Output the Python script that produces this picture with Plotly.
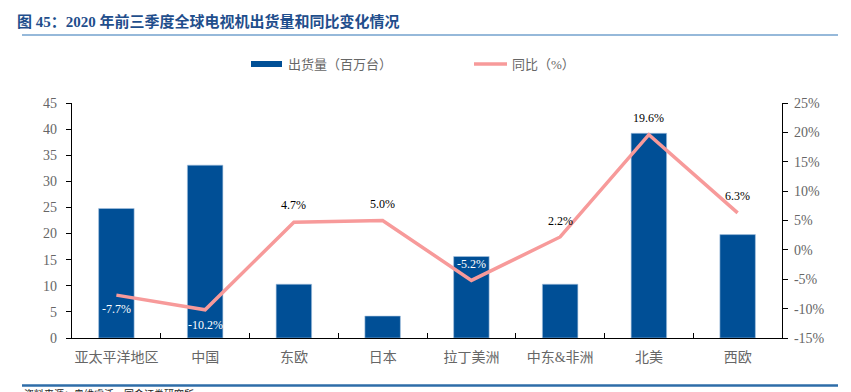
import plotly.graph_objects as go

categories = ["亚太平洋地区", "中国", "东欧", "日本", "拉丁美洲", "中东&非洲", "北美", "西欧"]
shipments = [24.8, 33.1, 10.3, 4.2, 15.6, 10.3, 39.2, 19.8]
yoy = [-7.7, -10.2, 4.7, 5.0, -5.2, 2.2, 19.6, 6.3]
label_shift = [-14, -15, 17, 17, 16, 16, 17, 17]
label_color = ["white", "white", "black", "black", "white", "black", "black", "black"]

left_ticks = [0, 5, 10, 15, 20, 25, 30, 35, 40, 45]
right_ticks = [-15, -10, -5, 0, 5, 10, 15, 20, 25]

W, H = 851, 392
L, R, T, B = 72, 782, 103, 338

BAR = "#004F96"
LINE = "#F79A9A"
GREY = "#666666"
FONT = "Liberation Serif, Noto Sans CJK SC, serif"

fig = go.Figure()
fig.add_trace(go.Bar(
    x=categories, y=shipments, name="出货量（百万台）",
    marker=dict(color=BAR, line=dict(color="#A9C4E0", width=0.6)),
    yaxis="y", showlegend=False,
))
fig.add_trace(go.Scatter(
    x=categories, y=yoy, name="同比（%）", mode="lines",
    line=dict(color=LINE, width=3.5),
    yaxis="y2", showlegend=False, cliponaxis=False,
))

def px_x(p):
    return (p - L) / (R - L)

def px_y(p):
    return (B - p) / (B - T)

shapes = [
    dict(type="line", xref="paper", yref="paper", x0=px_x(22), x1=px_x(838),
         y0=px_y(35), y1=px_y(35), line=dict(color="#2E75B6", width=1.2)),
    dict(type="line", xref="paper", yref="paper", x0=px_x(22), x1=px_x(838),
         y0=px_y(385.5), y1=px_y(385.5), line=dict(color="#2E6DA8", width=2.5)),
    dict(type="rect", xref="paper", yref="paper", x0=px_x(251), x1=px_x(282),
         y0=px_y(67), y1=px_y(61), fillcolor=BAR, line=dict(width=0)),
    dict(type="line", xref="paper", yref="paper", x0=px_x(474), x1=px_x(507),
         y0=px_y(64), y1=px_y(64), line=dict(color=LINE, width=3.5)),
]

annotations = [
    dict(text="出货量（百万台）", xref="paper", yref="paper", x=px_x(286), y=px_y(64),
         xanchor="left", yanchor="middle", showarrow=False,
         font=dict(size=13, color=GREY, family=FONT)),
    dict(text="同比（%）", xref="paper", yref="paper", x=px_x(510), y=px_y(64),
         xanchor="left", yanchor="middle", showarrow=False,
         font=dict(size=13, color=GREY, family=FONT)),
    dict(text="资料来源：奥维睿沃，国金证券研究所", xref="paper", yref="paper",
         x=px_x(22), y=px_y(386), xanchor="left", yanchor="top", showarrow=False,
         font=dict(size=10, color="#222222", family=FONT)),
]
for c, v, s, col in zip(categories, yoy, label_shift, label_color):
    annotations.append(dict(
        text=f"{v:.1f}%", x=c, y=v, xref="x", yref="y2", yshift=s,
        showarrow=False, xanchor="center", yanchor="middle",
        font=dict(size=12, color=col, family=FONT)))

fig.update_layout(
    width=W, height=H,
    margin=dict(l=L, r=W - R, t=T, b=H - B, pad=0),
    paper_bgcolor="white", plot_bgcolor="white",
    bargap=0.6,
    font=dict(family=FONT, color=GREY),
    title=dict(text="<b>图 45：2020 年前三季度全球电视机出货量和同比变化情况</b>",
               x=17 / W, xanchor="left", y=1 - 22 / H, yanchor="middle",
               font=dict(size=15, color="#1F4E8C", family=FONT)),
    xaxis=dict(showline=True, linecolor="black", linewidth=1.2, automargin=False,
               ticks="inside", tickson="boundaries", ticklen=5, tickcolor="black",
               tickangle=0, ticklabelstandoff=6,
               tickfont=dict(size=14, color=GREY, family=FONT), showgrid=False),
    yaxis=dict(range=[0, 45], tickvals=left_ticks, showline=True, linecolor="black",
               linewidth=1.2, ticks="outside", ticklen=5, tickcolor="black",
               automargin=False, ticklabelstandoff=6,
               tickfont=dict(size=14, color=GREY, family=FONT), showgrid=False,
               zeroline=False),
    yaxis2=dict(range=[-15, 25], tickvals=right_ticks,
                ticktext=[f"{v}%" for v in right_ticks], overlaying="y", side="right",
                showline=True, linecolor="black", linewidth=1.2, ticks="outside",
                ticklen=5, tickcolor="black", automargin=False, ticklabelstandoff=3,
                tickfont=dict(size=14, color=GREY, family=FONT),
                showgrid=False, zeroline=False),
    shapes=shapes, annotations=annotations,
)

fig.write_html("out.html", config={"displayModeBar": False},
               post_script="document.body.style.margin='0';")
